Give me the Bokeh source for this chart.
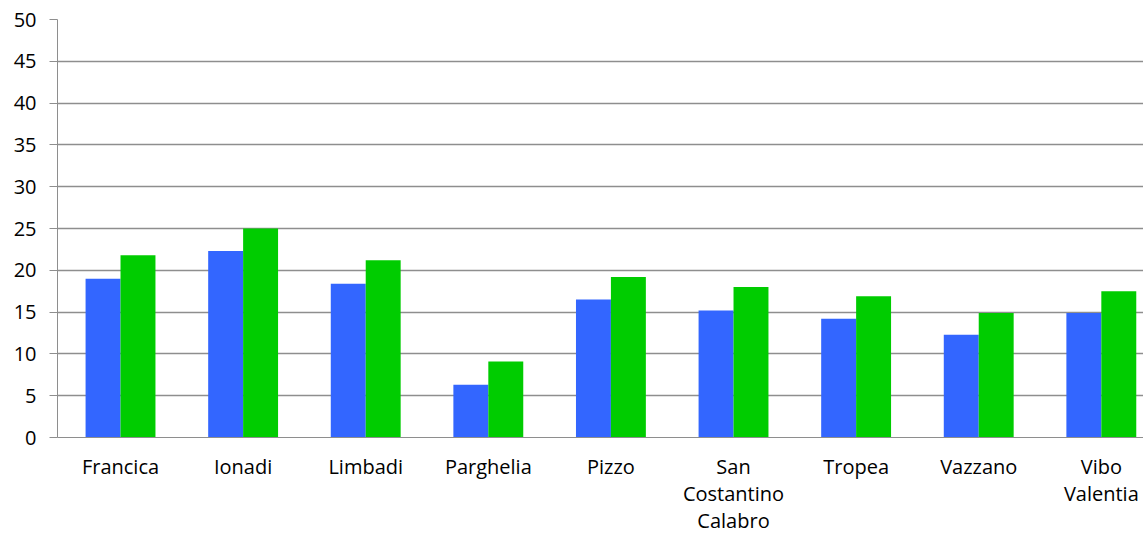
from bokeh.plotting import figure
from bokeh.models import ColumnDataSource, Range1d, FixedTicker
from bokeh.transform import dodge
from bokeh.embed import file_html
from bokeh.resources import INLINE

comuni = ["Francica", "Ionadi", "Limbadi", "Parghelia", "Pizzo",
          "San\nCostantino\nCalabro", "Tropea", "Vazzano", "Vibo\nValentia"]
serie_blu = [19.0, 22.3, 18.4, 6.3, 16.5, 15.2, 14.2, 12.3, 14.9]
serie_verde = [21.8, 25.0, 21.2, 9.1, 19.2, 18.0, 16.9, 14.9, 17.5]
y_ticks = [0, 5, 10, 15, 20, 25, 30, 35, 40, 45, 50]

idx = list(range(len(comuni)))
src = ColumnDataSource(data=dict(x=idx, blu=serie_blu, verde=serie_verde))

p = figure(width=1143, height=536, output_backend="svg", toolbar_location=None,
           x_range=Range1d(-0.514, 8.344), y_range=Range1d(0, 50),
           min_border_left=57, min_border_right=0, min_border_top=19, min_border_bottom=98)
p.outline_line_color = None
p.background_fill_color = "white"

bw = 0.285
p.vbar(x=dodge("x", -bw / 2, range=p.x_range), top="blu", width=bw, source=src,
       fill_color="#3366FF", line_color=None)
p.vbar(x=dodge("x", bw / 2, range=p.x_range), top="verde", width=bw, source=src,
       fill_color="#00CC00", line_color=None)

font = "Open Sans"
p.yaxis.ticker = FixedTicker(ticks=y_ticks)
p.yaxis.axis_line_color = "#8E8E8E"
p.yaxis.major_tick_line_color = "#8E8E8E"
p.yaxis.major_tick_out = 8
p.yaxis.major_tick_in = 0
p.yaxis.minor_tick_line_color = None
p.yaxis.major_label_text_font = font
p.yaxis.major_label_text_font_size = "20px"
p.yaxis.major_label_text_color = "#000000"
p.yaxis.major_label_standoff = 13

p.xaxis.ticker = FixedTicker(ticks=idx)
p.xaxis.major_label_overrides = {i: c for i, c in zip(idx, comuni)}
p.xaxis.axis_line_color = "#8E8E8E"
p.xaxis.major_tick_line_color = None
p.xaxis.minor_tick_line_color = None
p.xaxis.major_label_text_font = font
p.xaxis.major_label_text_font_size = "20px"
p.xaxis.major_label_text_line_height = 1.0
p.xaxis.major_label_text_color = "#000000"
p.xaxis.major_label_standoff = 9

p.xgrid.grid_line_color = None
p.ygrid.ticker = FixedTicker(ticks=y_ticks)
p.ygrid.grid_line_color = "#8E8E8E"
p.ygrid.grid_line_width = 1.3

open("out.html", "w").write(file_html(p, INLINE))
